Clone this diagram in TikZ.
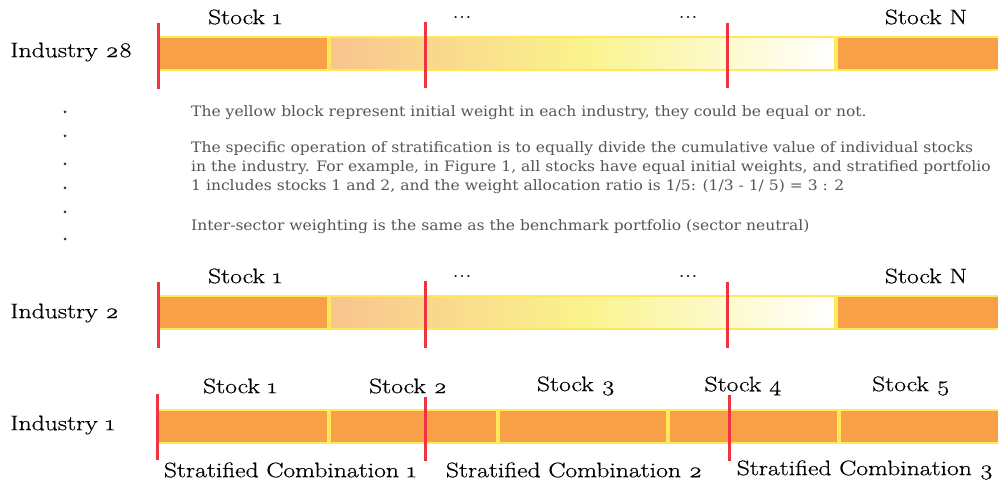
\documentclass[tikz,border=0pt]{standalone}
\usepackage{fontspec}
\setmainfont{Latin Modern Roman}[Numbers=OldStyle, FakeStretch=1.22, FakeBold=0.6]
\newfontfamily\notefont{DejaVu Serif}[FakeStretch=1.08]
\usepackage{xcolor}
\usetikzlibrary{positioning}

\definecolor{barorange}{RGB}{248,160,72}
\definecolor{baredge}{RGB}{255,232,90}
\definecolor{markred}{RGB}{238,52,62}
\definecolor{notegray}{RGB}{85,85,85}
\definecolor{lightorange}{RGB}{249,196,142}
\definecolor{midyellow}{RGB}{250,243,140}

\begin{document}
\begin{tikzpicture}[x=1pt, y=-1pt]
    % Stili
    \tikzstyle{seg}=[rectangle, draw=baredge, line width=2pt, fill=barorange, minimum height=33pt, inner sep=0pt]
    \tikzstyle{fade}=[seg, left color=lightorange, right color=white, middle color=midyellow]
    \tikzstyle{redline}=[draw=markred, line width=3pt]
    \tikzstyle{lbl}=[font=\fontsize{21}{24}\selectfont, text=black, inner sep=0pt]
    \tikzstyle{note}=[font=\notefont\fontsize{14.4}{19}\selectfont, text=notegray, align=left, anchor=west, inner sep=0pt]

    \useasboundingbox (0,0) rectangle (998,486);

    % Industry 28
    \node (ind28) [lbl, anchor=west] at (10,52) {Industry 28};
    \node (s28a) [seg, minimum width=170pt] at (243,53.5) {};
    \node (s28b) [fade, minimum width=505pt, right=0pt of s28a] {};
    \node (s28c) [seg, minimum width=180pt, right=0pt of s28b] {};
    \node (t28a) [lbl] at (245,17) {Stock 1};
    \node (t28b) [lbl] at (462,17) {...};
    \node (t28c) [lbl] at (688,17) {...};
    \node (t28d) [lbl] at (926,17) {Stock N};
    \draw [redline] (158,23) -- (158,89);
    \draw [redline] (425,22) -- (425,88);
    \draw [redline] (727,23) -- (727,88);

    % Puntini e note
    \foreach \y in {112,136,164,188,212,239}
        \fill [black!80] (65,\y) circle (1.5pt);
    \node (n1) [note] at (191,113) {The yellow block represent initial weight in each industry, they could be equal or not.};
    \node (n2) [note] at (191,168) {The specific operation of stratification is to equally divide the cumulative value of individual stocks\\in the industry. For example, in Figure 1, all stocks have equal initial weights, and stratified portfolio\\1 includes stocks 1 and 2, and the weight allocation ratio is 1/5: (1/3 - 1/ 5) = 3 : 2};
    \node (n3) [note] at (191,227) {Inter-sector weighting is the same as the benchmark portfolio (sector neutral)};

    % Industry 2
    \node (ind2) [lbl, anchor=west] at (10,313) {Industry 2};
    \node (s2a) [seg, minimum width=170pt] at (243,312.5) {};
    \node (s2b) [fade, minimum width=505pt, right=0pt of s2a] {};
    \node (s2c) [seg, minimum width=180pt, right=0pt of s2b] {};
    \node (t2a) [lbl] at (245,276) {Stock 1};
    \node (t2b) [lbl] at (462,276) {...};
    \node (t2c) [lbl] at (688,276) {...};
    \node (t2d) [lbl] at (926,276) {Stock N};
    \draw [redline] (158,282) -- (158,348);
    \draw [redline] (425,281) -- (425,348);
    \draw [redline] (727,282) -- (727,348);

    % Industry 1
    \node (ind1) [lbl, anchor=west] at (10,425) {Industry 1};
    \node (s1a) [seg, minimum width=170pt] at (243,426.5) {};
    \node (s1b) [seg, minimum width=167pt, right=0pt of s1a] {};
    \node (s1c) [seg, minimum width=168pt, right=0pt of s1b] {};
    \node (s1d) [seg, minimum width=169pt, right=0pt of s1c] {};
    \node (s1e) [seg, minimum width=180pt, right=0pt of s1d] {};
    \node (t1a) [lbl] at (240,386) {Stock 1};
    \node (t1b) [lbl] at (408,386) {Stock 2};
    \node (t1c) [lbl] at (576,386) {Stock 3};
    \node (t1d) [lbl] at (743,386) {Stock 4};
    \node (t1e) [lbl] at (911,386) {Stock 5};
    \draw [redline] (157,394) -- (157,460);
    \draw [redline] (425,397) -- (425,461);
    \draw [redline] (729,395) -- (729,461);
    \node (c1) [lbl] at (290,470) {Stratified Combination 1};
    \node (c2) [lbl] at (574,470) {Stratified Combination 2};
    \node (c3) [lbl] at (865,470) {Stratified Combination 3};

\end{tikzpicture}
\end{document}
